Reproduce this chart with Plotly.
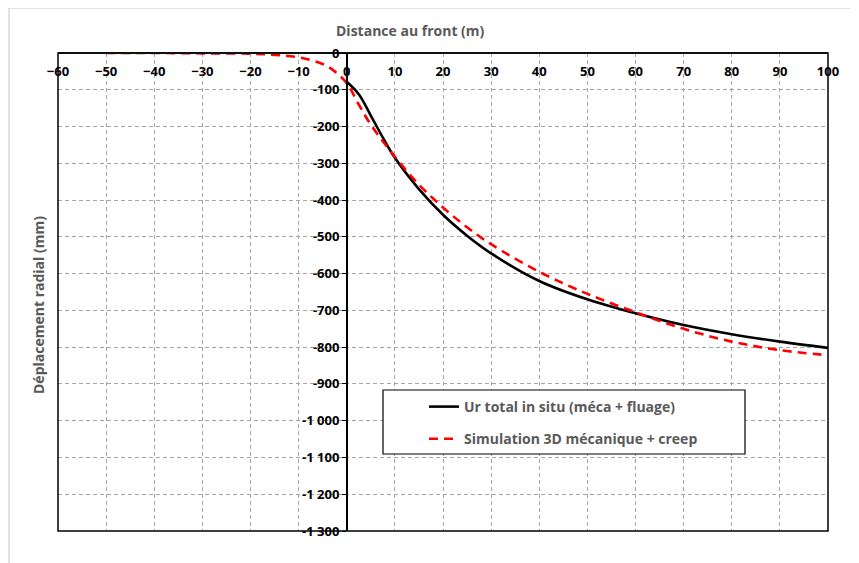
import plotly.graph_objects as go

# Data
x_black = [0, 2.5, 5, 7.5, 10, 15, 20, 25, 30, 40, 50, 60, 70, 80, 90, 100]
y_black = [-78, -112, -170, -230, -285, -370, -440, -497, -545, -620, -670, -708, -740, -765, -785, -802]

x_red = [-50, -40, -30, -20, -15, -10, -5, -2.5, 0, 2.5, 5, 10, 15, 20, 25, 30, 40, 50, 60, 70, 80, 90, 100]
y_red = [0, 0, -1, -2, -5, -12, -30, -50, -82, -140, -195, -282, -358, -420, -474, -520, -595, -655, -705, -750, -785, -808, -822]

x_ticks = list(range(-60, 101, 10))
y_ticks = list(range(0, -1301, -100))
y_ticktext = [("-" if v < 0 else "") + f"{abs(v):,}".replace(",", " ") for v in y_ticks]

name_black = "Ur total in situ (méca + fluage)"
name_red = "Simulation 3D mécanique + creep"

FONT = "Open Sans"
GRAY = "#595959"

W, H = 859, 563
OFF = 8  # page body margin
PW, PH = 770, 478
L = 58 - OFF
T = 53 - OFF
R = W - L - PW
B = H - T - PH

def px(xp):
    return (xp - OFF - L) / PW

def py(yp):
    return (T + PH - (yp - OFF)) / PH

fig = go.Figure()
fig.add_trace(go.Scatter(x=x_black, y=y_black, mode="lines", name=name_black,
                         line=dict(color="black", width=2.6, shape="spline"),
                         legendgroup="a"))
fig.add_trace(go.Scatter(x=x_red, y=y_red, mode="lines", name=name_red,
                         line=dict(color="#ff0000", width=2.6, dash="9px,6px", shape="spline"),
                         legendgroup="b"))

GRID = "#a6a6a6"
fig.update_layout(
    width=W, height=H,
    margin=dict(l=L, r=R, t=T, b=B),
    plot_bgcolor="white", paper_bgcolor="white",
    showlegend=True,
    legend=dict(x=px(424), y=py(391), xanchor="left", yanchor="top",
                bgcolor="rgba(0,0,0,0)", borderwidth=0,
                font=dict(family=FONT, size=14, color=GRAY, weight="bold"),
                tracegroupgap=11, traceorder="grouped"),
    xaxis=dict(range=[-60, 100], side="bottom", anchor="free", position=1,
               tickvals=x_ticks, ticks="", ticklabelstandoff=6,
               tickfont=dict(family=FONT, size=13, color="black", weight="bold"),
               showgrid=True, gridcolor=GRID, griddash="4px,3px", gridwidth=1,
               zeroline=False, showline=True, linecolor="#404040", linewidth=2),
    yaxis=dict(range=[-1300, 0], anchor="free", position=0.375,
               tickvals=y_ticks, ticktext=y_ticktext,
               ticks="outside", ticklen=4, tickcolor="black", tickwidth=1,
               tickfont=dict(family=FONT, size=13, color="black", weight="bold"),
               showgrid=True, gridcolor=GRID, griddash="4px,3px", gridwidth=1,
               zeroline=False, showline=True, linecolor="black", linewidth=1.5),
    annotations=[
        dict(text="Distance au front (m)", x=px(410), y=py(30), xref="paper", yref="paper",
             xanchor="center", yanchor="middle", showarrow=False,
             font=dict(family=FONT, size=14, color=GRAY, weight="bold")),
        dict(text="Déplacement radial (mm)", x=px(38), y=py(305), xref="paper", yref="paper",
             xanchor="center", yanchor="middle", showarrow=False, textangle=-90,
             font=dict(family=FONT, size=14, color=GRAY, weight="bold")),
    ],
    shapes=[
        dict(type="rect", xref="paper", yref="paper", x0=0, x1=1, y0=0, y1=1,
             line=dict(color="black", width=1.5), layer="above"),
        dict(type="rect", xref="paper", yref="paper", x0=px(383), x1=px(745), y0=py(454), y1=py(390),
             line=dict(color="black", width=1.2), fillcolor="white", layer="above"),
        dict(type="line", xref="paper", yref="paper", x0=px(9), x1=px(870), y0=py(8), y1=py(8),
             line=dict(color="#d9d9d9", width=1.5)),
        dict(type="line", xref="paper", yref="paper", x0=px(9), x1=px(9), y0=py(8), y1=py(580),
             line=dict(color="#d9d9d9", width=1.5)),
    ],
)

fig.write_html("out.html")
